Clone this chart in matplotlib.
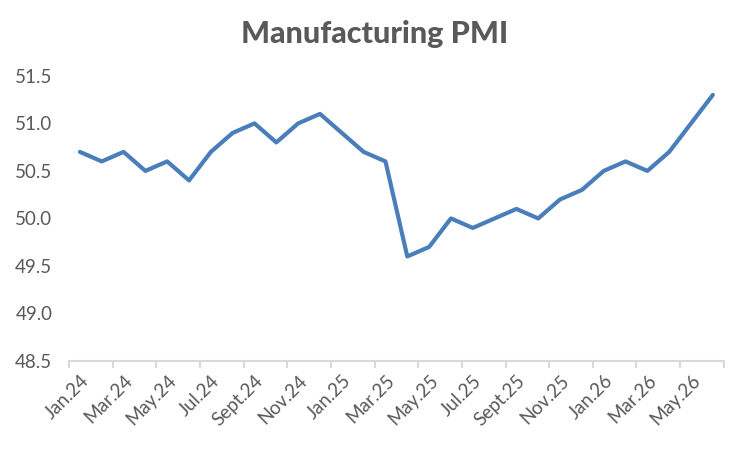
import matplotlib
matplotlib.use("Agg")
import matplotlib.pyplot as plt
import numpy as np

months = ["Jan", "Feb", "Mar", "Apr", "May", "Jun", "Jul", "Aug", "Sept", "Oct", "Nov", "Dec"]
categories = [f"{m}.{y}" for y in ("24", "25", "26") for m in months][:30]
pmi = [50.7, 50.6, 50.7, 50.5, 50.6, 50.4, 50.7, 50.9, 51.0, 50.8,
       51.0, 51.1, 50.9, 50.7, 50.6, 49.6, 49.7, 50.0, 49.9, 50.0,
       50.1, 50.0, 50.2, 50.3, 50.5, 50.6, 50.5, 50.7, 51.0, 51.3]
yticks = [48.5, 49.0, 49.5, 50.0, 50.5, 51.0, 51.5]

plt.rcParams['font.family'] = ['Lato', 'DejaVu Sans']

fig = plt.figure(figsize=(7.5, 4.49), dpi=100)
ax = fig.add_axes([0.092, 0.196, 0.873, 0.635])

x = np.arange(len(pmi))
ax.plot(x, pmi, color="#4a7ebb", lw=3.0, solid_joinstyle="round", solid_capstyle="round")

ax.set_xlim(-0.5, len(pmi) - 0.5)
ax.set_ylim(48.5, 51.5)
ax.set_yticks(yticks)
ax.set_yticklabels([f"{v:.1f}" for v in yticks], fontsize=13.5, color="#595959")

ax.set_xticks(np.arange(-0.5, len(pmi), 2))
ax.set_xticklabels([])
ax.set_xticks(x[::2], minor=True)
ax.set_xticklabels(categories[::2], minor=True, rotation=45, ha="right",
                   rotation_mode="anchor", fontsize=13.5, color="#595959")
ax.tick_params(axis="x", which="major", length=5, width=1.5, color="#d9d9d9")
ax.tick_params(axis="x", which="minor", length=0, pad=8)
ax.tick_params(axis="y", length=0, pad=12)

for s in ("top", "right", "left"):
    ax.spines[s].set_visible(False)
ax.spines["bottom"].set_color("#d9d9d9")
ax.spines["bottom"].set_linewidth(1.5)

fig.text(0.5, 0.925, "Manufacturing PMI", ha="center", va="center",
         fontsize=22, fontweight=900, color="#595959")

fig.savefig("out.png", dpi=100, facecolor="white")
